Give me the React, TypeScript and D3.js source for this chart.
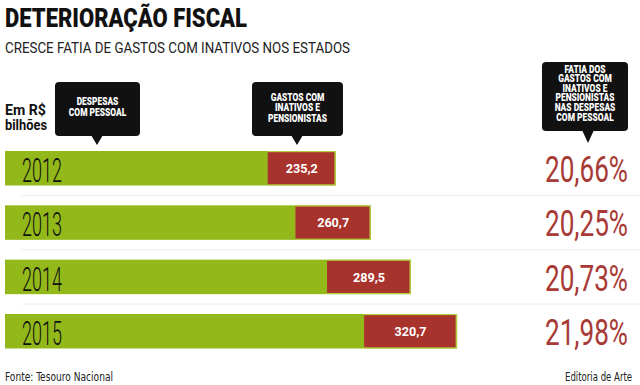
import * as d3 from "d3";

const years = ["2012", "2013", "2014", "2015"];
// despesas com pessoal, R$ bilhões
const despesas = [1141, 1262, 1400, 1559];
// gastos com inativos e pensionistas, R$ bilhões
const inativos = [235.2, 260.7, 289.5, 320.7];
// fatia dos inativos nas despesas, %
const fatia = [20.66, 20.25, 20.73, 21.98];

const width = 640;
const height = 385;
const font = "'Liberation Sans Narrow', 'DejaVu Sans Condensed', Roboto, sans-serif";
const green = "#93b81a";
const greenEdge = "#b3cc3e";
const red = "#a8322c";
const pctColor = "#a83a36";

const fmt = (v: number, digits: number) => v.toFixed(digits).replace(".", ",");

const Callout = ({ x0, x1, y0, y1, tipX, tipY, lines, lineY }: any) => {
  const cx = (x0 + x1) / 2;
  return (
    <g>
      <rect x={x0} y={y0} width={x1 - x0} height={y1 - y0} rx={4} fill="#111" />
      <path d={`M${tipX - 6},${y1 - 1} L${tipX + 6},${y1 - 1} L${tipX},${tipY} Z`} fill="#111" />
      <g transform={`translate(${cx},0) scale(0.84,1)`}>
        {lines.map((l: string, i: number) => (
          <text
            key={l}
            x={0}
            y={lineY[i]}
            textAnchor="middle"
            fill="#fff"
            fontFamily="Roboto, sans-serif"
            fontWeight={900}
            fontSize={10}
            dominantBaseline="middle"
          >
            {l}
          </text>
        ))}
      </g>
    </g>
  );
};

export default function App() {
  const xScale = d3.scaleLinear().domain([0, 1600]).range([5, 469]);
  const yScale = d3
    .scaleBand()
    .domain(years)
    .range([151, 348.5])
    .paddingInner(0.365)
    .paddingOuter(0);
  const bw = yScale.bandwidth();
  const step = yScale.step();

  return (
    <div style={{ position: "absolute", left: 0, top: 0 }}>
      <svg width={width} height={height} viewBox={`0 0 ${width} ${height}`} style={{ display: "block", background: "#fff" }}>
        {/* title */}
        <text x={5} y={27} fontFamily="Roboto, sans-serif" fontWeight={900} fontSize={26} fill="#111" textLength={242} lengthAdjust="spacingAndGlyphs">
          DETERIORAÇÃO FISCAL
        </text>
        <text x={5} y={53} fontFamily="Roboto, sans-serif" fontSize={15} fill="#222" textLength={345} lengthAdjust="spacingAndGlyphs">
          CRESCE FATIA DE GASTOS COM INATIVOS NOS ESTADOS
        </text>

        <text x={5} y={115} fontFamily="Roboto, sans-serif" fontWeight={700} fontSize={14} fill="#111" textLength={41} lengthAdjust="spacingAndGlyphs">
          Em R$
        </text>
        <text x={5} y={130} fontFamily="Roboto, sans-serif" fontWeight={700} fontSize={14} fill="#111" textLength={42} lengthAdjust="spacingAndGlyphs">
          bilhões
        </text>

        <Callout x0={55} x1={140} y0={82} y1={136} tipX={97} tipY={145} lines={["DESPESAS", "COM PESSOAL"]} lineY={[102, 113]} />
        <Callout x0={252} x1={343} y0={82} y1={136} tipX={297} tipY={145} lines={["GASTOS COM", "INATIVOS E", "PENSIONISTAS"]} lineY={[98, 108, 119]} />
        <Callout
          x0={542}
          x1={628}
          y0={62}
          y1={131}
          tipX={588}
          tipY={143}
          lines={["FATIA DOS", "GASTOS COM", "INATIVOS E", "PENSIONISTAS", "NAS DESPESAS", "COM PESSOAL"]}
          lineY={[70, 79.6, 89.2, 98.8, 108.4, 118]}
        />

        {/* separators */}
        {years.slice(1).map((yr) => (
          <line
            key={yr}
            x1={22}
            x2={640}
            y1={(yScale(yr) as number) - (step - bw) / 2}
            y2={(yScale(yr) as number) - (step - bw) / 2}
            stroke="#d8d8d8"
            strokeDasharray="1,1"
          />
        ))}

        {years.map((yr, i) => {
          const y = yScale(yr) as number;
          const x0 = xScale(0);
          const xEnd = xScale(despesas[i]);
          const xRed = xScale(despesas[i] - inativos[i]);
          return (
            <g key={yr}>
              <rect x={x0} y={y} width={xEnd - x0} height={bw} fill={green} />
              <rect x={xRed} y={y} width={xEnd - xRed} height={bw} fill={greenEdge} />
              <rect x={xRed} y={y + 1.2} width={xEnd - xRed - 1.5} height={bw - 2.4} fill={red} />
              <text x={22} y={y + 31} fontFamily="Roboto, sans-serif" fontWeight={300} fontSize={33} fill="#111" textLength={40} lengthAdjust="spacingAndGlyphs">
                {yr}
              </text>
              <text
                x={(xRed + xEnd) / 2}
                y={y + 22}
                textAnchor="middle"
                fontFamily="Roboto, sans-serif"
                fontWeight={700}
                fontSize={13}
                fill="#fff"
                textLength={32}
                lengthAdjust="spacingAndGlyphs"
              >
                {fmt(inativos[i], 1)}
              </text>
              <text
                x={628}
                y={y + 31}
                textAnchor="end"
                fontFamily="Roboto, sans-serif"
                fontWeight={400}
                fontSize={37}
                fill={pctColor}
                textLength={83}
                lengthAdjust="spacingAndGlyphs"
              >
                {fmt(fatia[i], 2)}%
              </text>
            </g>
          );
        })}

        {/* footer */}
        <text x={5} y={381} fontFamily={font} fontSize={12} fill="#222" textLength={108} lengthAdjust="spacingAndGlyphs">
          Fonte: Tesouro Nacional
        </text>
        <text x={632} y={381} textAnchor="end" fontFamily={font} fontSize={12} fill="#222" textLength={67} lengthAdjust="spacingAndGlyphs">
          Editoria de Arte
        </text>
      </svg>
    </div>
  );
}
